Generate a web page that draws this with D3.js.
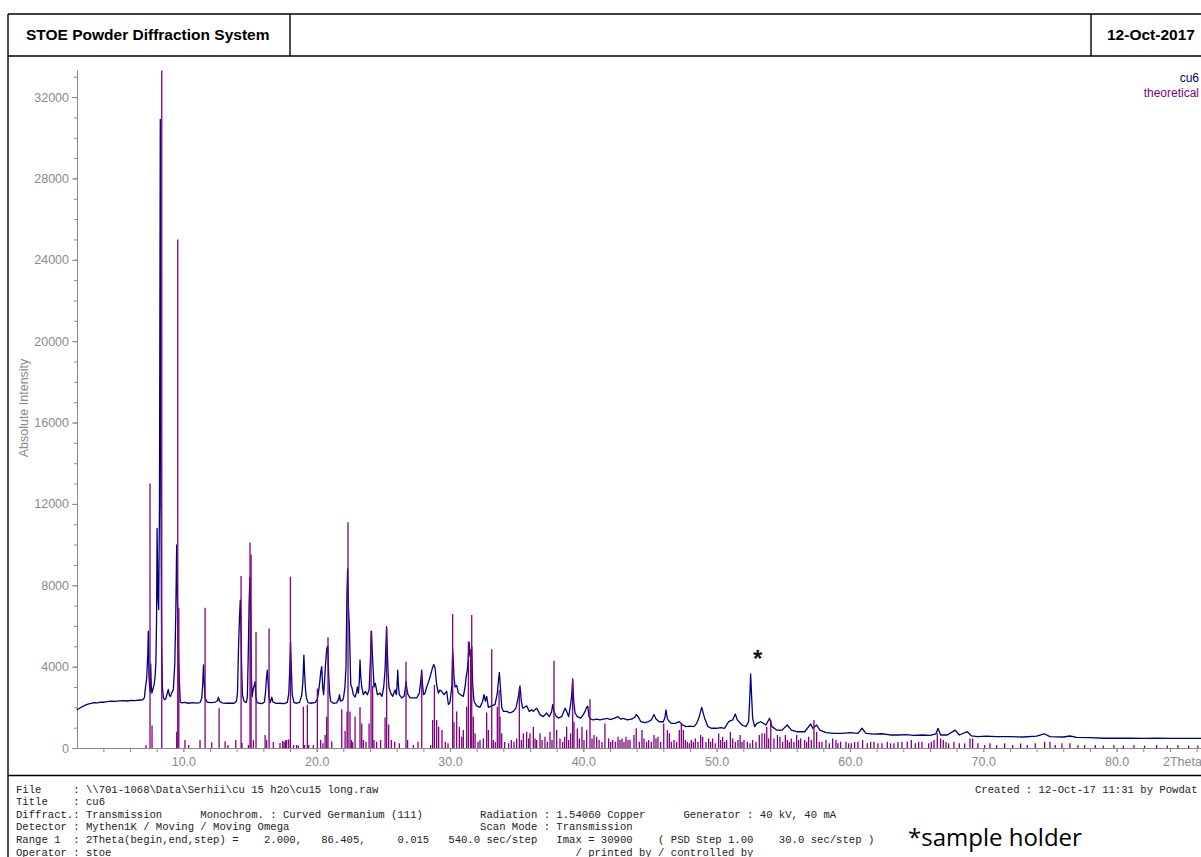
<!DOCTYPE html>
<html>
<head>
<meta charset="utf-8">
<script src="https://cdn.jsdelivr.net/npm/d3@7"></script>
<style>
  html, body { margin: 0; padding: 0; background: #fff; }
  svg { display: block; }
  .tick text { font-family: "Liberation Sans", Arial, sans-serif; font-size: 12.5px; fill: #8a8a8a; }
  .tick line { stroke: #8a8a8a; }
  .domain { stroke: #8a8a8a; }
</style>
</head>
<body>
<svg id="chart" width="1201" height="857"></svg>
<script>
// Measured pattern of sample cu6: [2Theta (deg), counts]
const cu6Pattern = [
  [2.00,1870],[2.15,1930],[2.30,1990],[2.50,2060],[2.70,2120],[2.90,2170],[3.10,2190],[3.30,2230],[3.55,2220],[3.80,2260],
  [4.05,2250],[4.30,2280],[4.60,2300],[4.90,2290],[5.20,2320],[5.50,2330],[5.80,2310],[6.10,2340],[6.40,2330],[6.70,2360],
  [6.95,2370],[7.08,2480],[7.15,2930],[7.25,3430],[7.33,4600],[7.37,5750],[7.42,3600],[7.47,3000],[7.51,2770],[7.55,4130],
  [7.59,3100],[7.64,2700],[7.72,2900],[7.80,3100],[7.88,3500],[7.94,4200],[7.99,6300],[8.03,10800],[8.09,7500],[8.15,6800],
  [8.21,12000],[8.27,30900],[8.32,12000],[8.37,5000],[8.43,3000],[8.50,2480],[8.58,2380],[8.68,2420],[8.77,2640],[8.87,2880],
  [8.95,2600],[9.02,2530],[9.13,2700],[9.25,2880],[9.36,4180],[9.43,6540],[9.50,9980],[9.56,7200],[9.62,5000],[9.70,3300],
  [9.77,2250],[9.90,2220],[10.10,2240],[10.40,2200],[10.70,2230],[11.00,2210],[11.25,2230],[11.38,2450],[11.45,3100],[11.51,4080],
  [11.56,3300],[11.63,2450],[11.80,2250],[12.10,2230],[12.40,2260],[12.56,2320],[12.63,2500],[12.72,2300],[12.90,2220],[13.20,2200],
  [13.50,2210],[13.80,2200],[13.98,2300],[14.06,2700],[14.14,5000],[14.21,6390],[14.27,7270],[14.32,6000],[14.37,4000],[14.43,2600],
  [14.55,2300],[14.72,2230],[14.80,2500],[14.87,4670],[14.93,7000],[14.99,8400],[15.05,6500],[15.11,3400],[15.16,2520],[15.25,2930],
  [15.33,3100],[15.38,3260],[15.44,2500],[15.52,2230],[15.70,2200],[15.90,2180],[16.08,2260],[16.17,2800],[16.24,3500],[16.30,3830],
  [16.36,3200],[16.42,2500],[16.52,2230],[16.63,2500],[16.72,2260],[16.95,2190],[17.25,2200],[17.55,2180],[17.80,2240],[17.91,2700],
  [17.97,3700],[18.04,5220],[18.10,3900],[18.17,2600],[18.30,2230],[18.50,2200],[18.72,2240],[18.88,2600],[18.97,3300],[19.04,4570],
  [19.10,3600],[19.16,2900],[19.22,2500],[19.35,2230],[19.60,2200],[19.90,2240],[20.05,2400],[20.13,2700],[20.24,3300],[20.31,3770],
  [20.38,4000],[20.45,3000],[20.52,2620],[20.60,3400],[20.65,4000],[20.72,4600],[20.77,4920],[20.84,5000],[20.90,3600],[20.97,2700],
  [21.05,2300],[21.25,2200],[21.50,2220],[21.65,2400],[21.71,2620],[21.78,2300],[21.95,2350],[22.02,2500],[22.12,3000],[22.20,4000],
  [22.27,7600],[22.32,8800],[22.39,6800],[22.45,6050],[22.52,4000],[22.56,3100],[22.63,3000],[22.75,2620],[22.88,2500],[22.98,2700],
  [23.05,3000],[23.13,2700],[23.20,3300],[23.25,4330],[23.31,3500],[23.38,3000],[23.50,2620],[23.65,2780],[23.80,2620],[23.93,2850],
  [24.03,4330],[24.11,5750],[24.18,4600],[24.24,3830],[24.30,3000],[24.40,3180],[24.55,2620],[24.75,2700],[24.90,2540],[25.03,3000],
  [25.13,3830],[25.20,5200],[25.24,5960],[25.30,4800],[25.35,3800],[25.42,3000],[25.55,2700],[25.70,2540],[25.88,2850],[25.98,2620],
  [26.04,3200],[26.08,3830],[26.13,3100],[26.20,2620],[26.38,2460],[26.55,2540],[26.64,2900],[26.70,3270],[26.77,2900],[26.85,2620],
  [27.00,2460],[27.25,2460],[27.50,2460],[27.70,2700],[27.80,3270],[27.88,3830],[27.94,3100],[28.02,2620],[28.13,2700],[28.25,3000],
  [28.40,3270],[28.55,3600],[28.68,3930],[28.78,4100],[28.88,3930],[29.00,3100],[29.13,2700],[29.25,2850],[29.38,2780],[29.55,2620],
  [29.75,2780],[29.88,2140],[30.00,2230],[30.10,2800],[30.14,3100],[30.20,4850],[30.26,4100],[30.30,3500],[30.38,3000],[30.50,3080],
  [30.63,2700],[30.80,2620],[31.00,2540],[31.13,3000],[31.20,3440],[31.30,3830],[31.37,4400],[31.43,5220],[31.50,4500],[31.57,4600],
  [31.63,4980],[31.70,3100],[31.80,2300],[32.00,2070],[32.25,2000],[32.45,2300],[32.55,2620],[32.65,2300],[32.75,2540],[32.88,2000],
  [33.13,2070],[33.38,2140],[33.55,2700],[33.63,3270],[33.70,3720],[33.78,3000],[33.88,2000],[34.00,1800],[34.25,1800],[34.50,1720],
  [34.75,1800],[34.95,1960],[35.13,2540],[35.25,3050],[35.35,2300],[35.45,1960],[35.60,2000],[35.75,2070],[35.95,1800],[36.13,1880],
  [36.25,1800],[36.50,1960],[36.75,1640],[37.00,1540],[37.25,1720],[37.45,1540],[37.63,1800],[37.70,2140],[37.80,1800],[37.95,1570],
  [38.13,1470],[38.38,1540],[38.63,1960],[38.75,1800],[38.90,1540],[39.05,2140],[39.13,2620],[39.20,3350],[39.28,2300],[39.38,1720],
  [39.55,1540],[39.80,1470],[40.00,1640],[40.13,1800],[40.25,2000],[40.33,2050],[40.43,1540],[40.55,1420],[40.75,1380],[41.00,1420],
  [41.25,1380],[41.50,1420],[41.80,1460],[42.00,1400],[42.30,1460],[42.60,1540],[42.80,1420],[43.00,1460],[43.30,1380],[43.60,1420],
  [43.85,1500],[43.97,1650],[44.15,1500],[44.30,1300],[44.60,1250],[44.90,1300],[45.10,1380],[45.30,1650],[45.45,1420],[45.70,1290],
  [46.00,1290],[46.12,1500],[46.20,1870],[46.30,1450],[46.45,1300],[46.60,1210],[46.90,1210],[47.20,1300],[47.40,1150],[47.70,1050],
  [48.00,1080],[48.30,1050],[48.50,1210],[48.65,1450],[48.76,1700],[48.88,2000],[48.98,1750],[49.10,1460],[49.35,1050],[49.60,970],
  [50.00,970],[50.30,1000],[50.60,970],[50.90,1300],[51.20,1380],[51.40,1670],[51.55,1380],[51.90,1130],[52.20,1050],[52.40,1300],
  [52.48,2400],[52.55,3640],[52.62,2600],[52.70,1460],[52.85,1050],[53.00,1200],[53.30,1290],[53.70,1130],[53.97,1460],[54.15,1050],
  [54.50,880],[54.90,880],[55.30,1130],[55.60,880],[56.00,800],[56.60,800],[57.06,1180],[57.20,970],[57.50,1130],[57.75,880],
  [58.20,760],[58.80,720],[59.40,720],[60.00,760],[60.60,720],[60.90,970],[61.20,720],[61.80,680],[62.40,700],[63.00,640],
  [63.60,640],[64.20,660],[64.80,620],[65.40,640],[66.00,620],[66.45,700],[66.60,966],[66.80,640],[67.30,640],[67.90,880],
  [68.20,640],[68.80,800],[69.10,600],[69.60,560],[70.20,580],[71.00,560],[72.00,560],[73.00,540],[74.00,580],[74.56,700],
  [75.00,560],[76.00,540],[76.50,590],[77.00,520],[78.00,510],[79.00,480],[80.00,480],[81.00,480],[82.00,470],[83.00,480],
  [84.00,470],[85.00,470],[86.40,470]
];

// Calculated reflections (theoretical): [2Theta (deg), intensity]
const theoreticalPeaks = [
  [7.20,150],[7.50,13000],[7.65,1100],[8.38,33300],[9.50,800],[9.58,25000],[9.66,6900],[10.12,390],[10.40,150],[11.25,390],
  [11.63,6900],[12.13,280],[12.68,1950],[13.13,330],[13.35,150],[13.93,390],[14.33,8450],[14.40,250],[14.88,150],[15.00,10100],
  [15.08,9500],[15.25,390],[15.45,5700],[16.13,640],[16.25,390],[16.43,5880],[16.75,290],[17.25,250],[17.45,350],[17.55,300],
  [17.65,380],[17.75,390],[17.90,420],[18.03,8420],[18.27,150],[18.50,150],[18.62,120],[19.00,2030],[19.10,150],[19.30,2130],
  [19.40,150],[19.75,150],[20.05,2930],[20.30,390],[20.47,230],[20.63,640],[20.75,1540],[20.85,5440],[21.13,330],[21.88,1900],
  [22.13,830],[22.28,1800],[22.35,11100],[22.50,1800],[22.60,390],[22.70,300],[22.88,1540],[23.25,2000],[23.38,1210],[23.50,390],
  [23.70,310],[23.93,1210],[24.08,5750],[24.20,3050],[24.30,390],[24.50,310],[24.80,390],[25.13,1500],[25.25,5900],[25.40,1150],
  [25.60,390],[25.85,310],[26.20,230],[26.70,4240],[26.82,390],[27.25,150],[27.60,310],[27.88,3700],[28.55,150],[28.70,1380],
  [28.83,3100],[29.00,1380],[29.15,1050],[29.40,885],[29.65,310],[29.85,230],[30.20,6590],[30.30,1280],[30.50,1800],[30.70,1050],
  [30.88,555],[31.00,885],[31.25,2030],[31.38,5220],[31.55,4850],[31.63,6540],[31.75,1540],[31.88,720],[32.10,300],[32.25,390],
  [32.50,470],[32.75,1750],[32.88,885],[33.13,4850],[33.25,390],[33.40,300],[33.55,2030],[33.68,2850],[33.75,1540],[33.88,720],
  [34.10,300],[34.40,230],[34.60,390],[34.80,310],[35.00,470],[35.20,2930],[35.35,390],[35.50,720],[35.75,800],[35.90,470],
  [36.00,720],[36.25,1050],[36.38,470],[36.50,390],[36.75,720],[36.90,390],[37.12,555],[37.30,310],[37.50,800],[37.65,390],
  [37.80,4290],[38.00,885],[38.25,470],[38.45,300],[38.60,550],[38.75,1050],[38.90,390],[39.05,720],[39.20,3430],[39.30,1290],
  [39.55,960],[39.70,470],[39.90,1050],[40.05,390],[40.25,885],[40.50,2400],[40.65,470],[40.80,640],[41.00,550],[41.18,390],
  [41.40,300],[41.62,1210],[41.90,470],[42.05,300],[42.20,390],[42.40,310],[42.60,550],[42.75,390],[42.90,470],[43.05,300],
  [43.20,550],[43.35,390],[43.50,400],[43.80,640],[43.97,970],[44.20,310],[44.40,885],[44.55,470],[44.75,300],[44.90,390],
  [45.10,310],[45.30,640],[45.45,470],[45.60,550],[45.80,300],[46.03,1210],[46.30,885],[46.45,720],[46.60,310],[46.80,390],
  [47.00,300],[47.20,885],[47.35,1210],[47.50,885],[47.65,390],[47.80,310],[47.95,230],[48.10,390],[48.25,300],[48.40,470],
  [48.60,310],[48.80,640],[48.95,550],[49.20,300],[49.40,470],[49.55,310],[49.70,470],[49.90,230],[50.15,720],[50.30,390],
  [50.45,550],[50.60,300],[50.75,390],[51.03,800],[51.20,470],[51.40,300],[51.60,390],[51.76,640],[51.90,300],[52.05,390],
  [52.30,310],[52.50,230],[52.70,390],[52.95,300],[53.20,640],[53.40,720],[53.60,720],[53.76,1050],[53.90,470],[54.06,1380],
  [54.30,470],[54.56,640],[54.75,550],[54.95,300],[55.15,640],[55.30,390],[55.45,300],[55.60,470],[55.80,300],[56.00,640],
  [56.15,390],[56.30,470],[56.60,390],[56.75,300],[56.90,557],[57.10,390],[57.30,1380],[57.50,800],[57.70,300],[57.90,310],
  [58.20,390],[58.45,230],[58.70,470],[58.95,390],[59.10,230],[59.30,310],[59.70,310],[59.90,230],[60.10,230],[60.35,300],
  [60.60,310],[60.95,390],[61.30,230],[61.55,300],[61.80,310],[62.10,230],[62.40,230],[62.80,310],[63.05,230],[63.30,230],
  [63.60,300],[63.90,310],[64.30,310],[64.60,390],[64.90,230],[65.15,300],[65.40,310],[65.90,230],[66.10,300],[66.30,390],
  [66.55,720],[66.80,470],[67.00,390],[67.20,300],[67.40,230],[67.80,310],[68.20,230],[68.60,230],[69.00,470],[69.20,470],
  [69.60,230],[70.10,150],[70.50,230],[71.00,150],[71.60,230],[72.20,150],[72.80,230],[73.30,150],[73.90,230],[74.60,310],
  [75.00,310],[75.40,150],[75.90,230],[76.50,230],[77.10,150],[77.60,150],[78.40,150],[79.00,120],[79.80,150],[80.50,120],
  [81.30,150],[82.10,120],[83.00,150],[83.80,120],[84.60,150],[85.40,120],[86.10,120]
];

// Axis ticks
const xMajorTicks = [10, 20, 30, 40, 50, 60, 70, 80];
const xMinorTicks = d3.range(4, 87, 2);
const yMajorTicks = [0, 4000, 8000, 12000, 16000, 20000, 24000, 28000, 32000];
const yMinorTicks = d3.range(0, 33001, 1000);

// Text blocks
const headerTitle = "STOE Powder Diffraction System";
const headerDate = "12-Oct-2017";
const seriesNames = ["cu6", "theoretical"];
const footerLines = [
  "File     : \\\\701-1068\\Data\\Serhii\\cu 15 h2o\\cu15 long.raw",
  "Title    : cu6",
  "Diffract.: Transmission      Monochrom. : Curved Germanium (111)         Radiation : 1.54060 Copper      Generator : 40 kV, 40 mA",
  "Detector : Mythen1K / Moving / Moving Omega                              Scan Mode : Transmission",
  "Range 1  : 2Theta(begin,end,step) =    2.000,   86.405,     0.015   540.0 sec/step   Imax = 30900    ( PSD Step 1.00    30.0 sec/step )",
  "Operator : stoe                                                                         / printed by / controlled by"
];
const footerCreated = "Created : 12-Oct-17 11:31 by Powdat";
const holderNote = "*sample holder";

const svg = d3.select("#chart");
svg.append("rect").attr("width", 1201).attr("height", 857).attr("fill", "#fff");

// Page frame
const frame = svg.append("g").attr("stroke", "#000").attr("stroke-width", 1.4).attr("fill", "none");
frame.append("line").attr("x1", 8).attr("x2", 1210).attr("y1", 14).attr("y2", 14);
frame.append("line").attr("x1", 8).attr("x2", 8).attr("y1", 14).attr("y2", 870);
frame.append("line").attr("x1", 8).attr("x2", 1210).attr("y1", 56).attr("y2", 56);
frame.append("line").attr("x1", 290).attr("x2", 290).attr("y1", 14).attr("y2", 56);
frame.append("line").attr("x1", 1091).attr("x2", 1091).attr("y1", 14).attr("y2", 56);
frame.append("line").attr("x1", 8).attr("x2", 1210).attr("y1", 775.5).attr("y2", 775.5);

svg.append("text").attr("x", 26).attr("y", 40)
  .attr("font-family", "Liberation Sans, Arial, sans-serif").attr("font-weight", "bold")
  .attr("font-size", 15.5).attr("fill", "#000").text(headerTitle);
svg.append("text").attr("x", 1107).attr("y", 40)
  .attr("font-family", "Liberation Sans, Arial, sans-serif").attr("font-weight", "bold")
  .attr("font-size", 15.5).attr("fill", "#000").text(headerDate);

// Scales
const x = d3.scaleLinear().domain([2, 86.405]).range([76.7, 1202]);
const y = d3.scaleLinear().domain([0, 33330]).range([748, 70]);

// Y axis: labelled major ticks and short minor ticks
svg.append("g").attr("transform", "translate(77,0)")
  .call(d3.axisLeft(y).tickValues(yMinorTicks).tickSize(3).tickFormat(""))
  .call(g => g.select(".domain").remove());
svg.append("g").attr("transform", "translate(77,0)")
  .call(d3.axisLeft(y).tickValues(yMajorTicks).tickSize(5).tickSizeOuter(0).tickPadding(3).tickFormat(d3.format("d")));

// X axis
svg.append("g").attr("transform", "translate(0,748)")
  .call(d3.axisBottom(x).tickValues(xMinorTicks).tickSize(4).tickSizeOuter(0).tickFormat(""));
svg.append("g").attr("transform", "translate(0,748)")
  .call(d3.axisBottom(x).tickValues(xMajorTicks).tickSize(4).tickPadding(5).tickFormat(d3.format(".1f")))
  .call(g => g.select(".domain").remove());

svg.append("text").attr("x", 1163).attr("y", 766)
  .attr("font-family", "Liberation Sans, Arial, sans-serif").attr("font-size", 12.5)
  .attr("fill", "#8a8a8a").text("2Theta");

svg.append("text")
  .attr("transform", "translate(28,408) rotate(-90)")
  .attr("text-anchor", "middle")
  .attr("font-family", "Liberation Sans, Arial, sans-serif").attr("font-size", 12.5)
  .attr("fill", "#8a8a8a").text("Absolute Intensity");

// Measured pattern
const line = d3.line().x(d => x(d[0])).y(d => y(d[1]));
svg.append("path").datum(cu6Pattern)
  .attr("d", line).attr("fill", "none")
  .attr("stroke", "#000080").attr("stroke-width", 1.3).attr("stroke-linejoin", "round");

// Theoretical sticks
svg.append("g").selectAll("line").data(theoreticalPeaks).join("line")
  .attr("x1", d => x(d[0])).attr("x2", d => x(d[0]))
  .attr("y1", y(0)).attr("y2", d => y(d[1]))
  .attr("stroke", "#800080").attr("stroke-width", 1.3);

// Sample holder reflection marker
const holderPeak = cu6Pattern.find(d => d[0] === 52.55);
svg.append("text").attr("x", x(holderPeak[0]) + 7).attr("y", y(holderPeak[1]) - 7)
  .attr("text-anchor", "middle")
  .attr("font-family", "Liberation Sans, Arial, sans-serif").attr("font-size", 24).attr("font-weight", "bold")
  .attr("fill", "#111").text("*");

// Legend
const legendColors = ["#000080", "#800080"];
svg.append("g").selectAll("text").data(seriesNames).join("text")
  .attr("x", 1199).attr("y", (d, i) => 82 + i * 15)
  .attr("text-anchor", "end")
  .attr("font-family", "Liberation Sans, Arial, sans-serif").attr("font-size", 12)
  .attr("fill", (d, i) => legendColors[i]).text(d => d);

// Footer
const footer = svg.append("g")
  .attr("font-family", "Liberation Mono, Courier New, monospace")
  .attr("font-size", 10.6).attr("fill", "#222");
footer.selectAll("text").data(footerLines).join("text")
  .attr("x", 16).attr("y", (d, i) => 792.5 + i * 12.6)
  .attr("xml:space", "preserve").style("white-space", "pre")
  .text(d => d);
footer.append("text").attr("x", 975).attr("y", 792.5)
  .style("white-space", "pre").text(footerCreated);

svg.append("text").attr("x", 908).attr("y", 846)
  .attr("font-family", "Open Sans, Noto Sans, sans-serif").attr("font-size", 24)
  .attr("fill", "#000").text(holderNote);
</script>
</body>
</html>
